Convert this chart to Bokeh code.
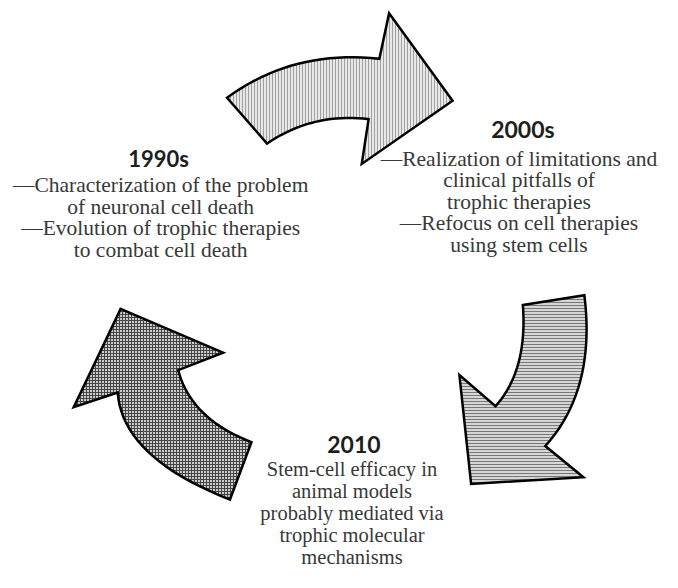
from bokeh.plotting import figure
from bokeh.models import Range1d
from bokeh.embed import file_html
from bokeh.resources import INLINE
from bokeh.core.properties import value

# ---- shapes (reference pixel coordinates); curved edges given as (start, control, end)
top_arrow = [("L", (232, 100)), ("Q", (300, 50), (388, 60)), ("L", (398, 13)), ("L", (463, 103)),
             ("L", (370, 168)), ("L", (377, 122)), ("Q", (320, 115), (273, 147))]
right_arrow = [("L", (535, 313)), ("L", (598, 303)), ("Q", (610, 400), (558, 458)), ("L", (597, 490)),
               ("L", (482, 497)), ("L", (470, 385)), ("L", (507, 417)), ("Q", (540, 380), (535, 313))]
left_arrow = [("L", (123, 317)), ("L", (228, 362)), ("L", (182, 380)), ("Q", (195, 430), (257, 454)),
              ("L", (235, 513)), ("Q", (125, 470), (120, 403)), ("L", (75, 418))]

# ---- texts
head_labels = ["1990s", "2000s", "2010"]
head_x = [162, 535, 362]
head_y = [162, 132, 456]
head_size = ["22px", "23px", "23px"]

body_1990 = ["—Characterization of the problem", "of neuronal cell death",
             "—Evolution of trophic therapies", "to combat cell death"]
body_2000 = ["—Realization of limitations and", "clinical pitfalls of", "trophic therapies",
             "—Refocus on cell therapies", "using stem cells"]
body_2010 = ["Stem-cell efficacy in", "animal models", "probably mediated via",
             "trophic molecular", "mechanisms"]


def outline(spec):
    xs, ys = [], []
    cur = None
    for item in spec:
        if item[0] == "L":
            cur = item[1]
            xs.append(cur[0]); ys.append(cur[1])
        else:
            c, e = item[1], item[2]
            for i in range(1, 21):
                t = i / 20
                x = (1 - t) ** 2 * cur[0] + 2 * (1 - t) * t * c[0] + t ** 2 * e[0]
                y = (1 - t) ** 2 * cur[1] + 2 * (1 - t) * t * c[1] + t ** 2 * e[1]
                xs.append(x); ys.append(y)
            cur = e
    return xs, ys


p = figure(width=662, height=572, output_backend="svg", toolbar_location=None,
           x_range=Range1d(0, 678), y_range=Range1d(588, 0), min_border=0)
p.axis.visible = False
p.grid.visible = False
p.outline_line_color = None
p.background_fill_color = "white"

styles = [
    (top_arrow, "#e8e8e8", "vertical_line", "#a0a0a0"),
    (right_arrow, "#d6d6d6", "horizontal_line", "#787878"),
    (left_arrow, "#cccccc", "cross", "#454545"),
]
for spec, fill, hatch, hcol in styles:
    xs, ys = outline(spec)
    p.patch(xs, ys, fill_color=fill, line_color="black", line_width=2.5,
            hatch_pattern=hatch, hatch_color=hcol, hatch_scale=3, hatch_weight=1,
            line_join="miter")

for lab, hx, hy, hs in zip(head_labels, head_x, head_y, head_size):
    p.text(x=[hx], y=[hy], text=[lab], text_align="center", text_baseline="middle",
           text_font=value("Lato"), text_font_style="bold", text_font_size=hs,
           text_color="#1e1e1e")


def block(lines, cx, y0, dy, size):
    p.text(x=[cx] * len(lines), y=[y0 + i * dy for i in range(len(lines))], text=lines,
           text_align="center", text_baseline="middle", text_font=value("Liberation Serif"),
           text_font_size=size, text_color="#383838")


block(body_1990, 164, 190, 22, "21.5px")
block(body_2000, 531, 163, 22, "21.5px")
block(body_2010, 360, 482, 22.5, "20.5px")

open("out.html", "w").write(file_html(p, INLINE))
